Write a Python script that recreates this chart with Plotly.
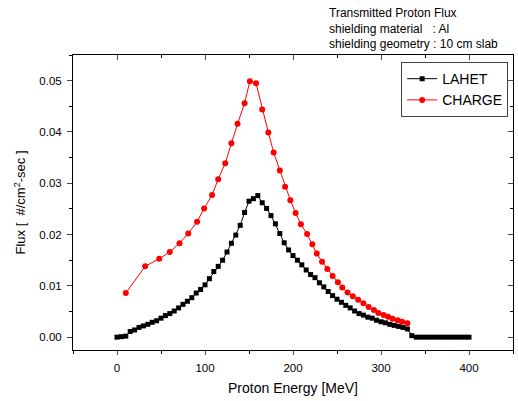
import plotly.graph_objects as go

# LAHET (black squares), 5 MeV steps
lahet_e = list(range(0, 405, 5))
lahet_flux = [
    0.0000, 0.0001, 0.0002, 0.0011, 0.0014, 0.0019, 0.0022, 0.0025, 0.0029, 0.0032,
    0.0037, 0.0042, 0.0046, 0.0051, 0.0057, 0.0064, 0.0070, 0.0077, 0.0086, 0.0093,
    0.0102, 0.0114, 0.0128, 0.0138, 0.0150, 0.0166, 0.0183, 0.0199, 0.0218, 0.0243,
    0.0265, 0.0270, 0.0276, 0.0262, 0.0251, 0.0237, 0.0221, 0.0202, 0.0184, 0.0170,
    0.0159, 0.0150, 0.0141, 0.0131, 0.0122, 0.0116, 0.0106, 0.0098, 0.0089, 0.0081,
    0.0074, 0.0068, 0.0062, 0.0057, 0.0051, 0.0046, 0.0043, 0.0039, 0.0037, 0.0033,
    0.0030, 0.0028, 0.0025, 0.0023, 0.0021, 0.0019, 0.0016, 0.0003, 0.0000, 0.0000,
    0.0000, 0.0000, 0.0000, 0.0000, 0.0000, 0.0000, 0.0000, 0.0000, 0.0000, 0.0000,
    0.0000,
]

# CHARGE (red circles)
charge_e = [10, 32, 48, 60, 71, 81, 91, 99, 108, 115, 123, 130, 137, 145, 151, 158,
            165, 172, 178, 185, 191, 197, 203, 209, 216, 222, 227, 233, 239, 245, 251,
            256, 262, 268, 274, 280, 286, 292, 297, 303, 308, 313, 319, 324, 330]
charge_flux = [0.0086, 0.0138, 0.0153, 0.0166, 0.0183, 0.0202, 0.0225, 0.0251, 0.0277,
               0.0308, 0.0339, 0.0378, 0.0416, 0.0456, 0.0499, 0.0495, 0.0444, 0.0399,
               0.0360, 0.0325, 0.0293, 0.0267, 0.0242, 0.0220, 0.0201, 0.0181, 0.0163,
               0.0147, 0.0133, 0.0119, 0.0107, 0.0097, 0.0087, 0.0080, 0.0073, 0.0066,
               0.0059, 0.0053, 0.0047, 0.0043, 0.0040, 0.0036, 0.0033, 0.0030, 0.0027]

x_ticks = [0, 100, 200, 300, 400]
y_ticks = [0.00, 0.01, 0.02, 0.03, 0.04, 0.05]
y_ticklabels = ["0.00", "0.01", "0.02", "0.03", "0.04", "0.05"]

FONT = "Liberation Sans, Arial, sans-serif"

fig = go.Figure()
fig.add_trace(go.Scatter(
    x=lahet_e, y=lahet_flux, mode="lines+markers", name="LAHET",
    line=dict(color="black", width=1),
    marker=dict(symbol="square", size=5, color="black"),
))
fig.add_trace(go.Scatter(
    x=charge_e, y=charge_flux, mode="lines+markers", name="CHARGE",
    line=dict(color="red", width=1),
    marker=dict(symbol="circle", size=6, color="red"),
))
# empty trace to register top/right mirror axes
fig.add_trace(go.Scatter(x=[], y=[], xaxis="x2", yaxis="y2", showlegend=False, hoverinfo="skip"))

xr = [-50, 450]
yr = [-0.0025, 0.055]

fig.update_layout(
    width=518, height=401,
    margin=dict(l=73, r=5, t=55, b=51),
    paper_bgcolor="white", plot_bgcolor="white",
    font=dict(family=FONT, color="black", size=11),
    showlegend=True,
    legend=dict(
        x=0.989, y=0.976, xanchor="right", yanchor="top",
        bordercolor="#444", borderwidth=1, bgcolor="white",
        font=dict(size=14, family=FONT),
        tracegroupgap=0, itemsizing="trace",
    ),
    xaxis=dict(
        range=xr, tickvals=x_ticks, ticks="outside", ticklen=4, tickwidth=1,
        showgrid=False, zeroline=False, showline=True, linecolor="black", linewidth=1,
        minor=dict(dtick=50, ticks="outside", ticklen=3, tickcolor="black"),
        tickfont=dict(size=11.5), ticklabelstandoff=3,
        title=dict(text="Proton Energy [MeV]", font=dict(size=14), standoff=10),
    ),
    yaxis=dict(
        range=yr, tickvals=y_ticks, ticktext=y_ticklabels, ticks="outside", ticklen=5, tickwidth=1,
        showgrid=False, zeroline=False, showline=True, linecolor="black", linewidth=1,
        minor=dict(dtick=0.005, ticks="outside", ticklen=3, tickcolor="black"),
        tickfont=dict(size=11.5), ticklabelstandoff=3,
        title=dict(text="Flux [  #/cm<sup>2</sup>-sec ]", font=dict(size=13), standoff=10),
    ),
    xaxis2=dict(
        range=xr, overlaying="x", side="top", anchor="y2", tickvals=x_ticks,
        ticks="inside", ticklen=5, showticklabels=False, showgrid=False, zeroline=False,
        showline=True, linecolor="black", linewidth=1,
        minor=dict(dtick=50, ticks="inside", ticklen=3, tickcolor="black"),
    ),
    yaxis2=dict(
        range=yr, overlaying="y", side="right", anchor="x2", tickvals=y_ticks,
        ticks="inside", ticklen=5, showticklabels=False, showgrid=False, zeroline=False,
        showline=True, linecolor="black", linewidth=1,
        minor=dict(dtick=0.005, ticks="inside", ticklen=3, tickcolor="black"),
    ),
    annotations=[dict(
        text="Transmitted Proton Flux<br>shielding material   : Al<br>shielding geometry : 10 cm slab",
        xref="paper", yref="paper", x=(327 - 73) / 440, y=1 + 51 / 295,
        xanchor="left", yanchor="top", align="left", showarrow=False,
        font=dict(size=12, family=FONT),
    )],
)

fig.write_html("out.html")
